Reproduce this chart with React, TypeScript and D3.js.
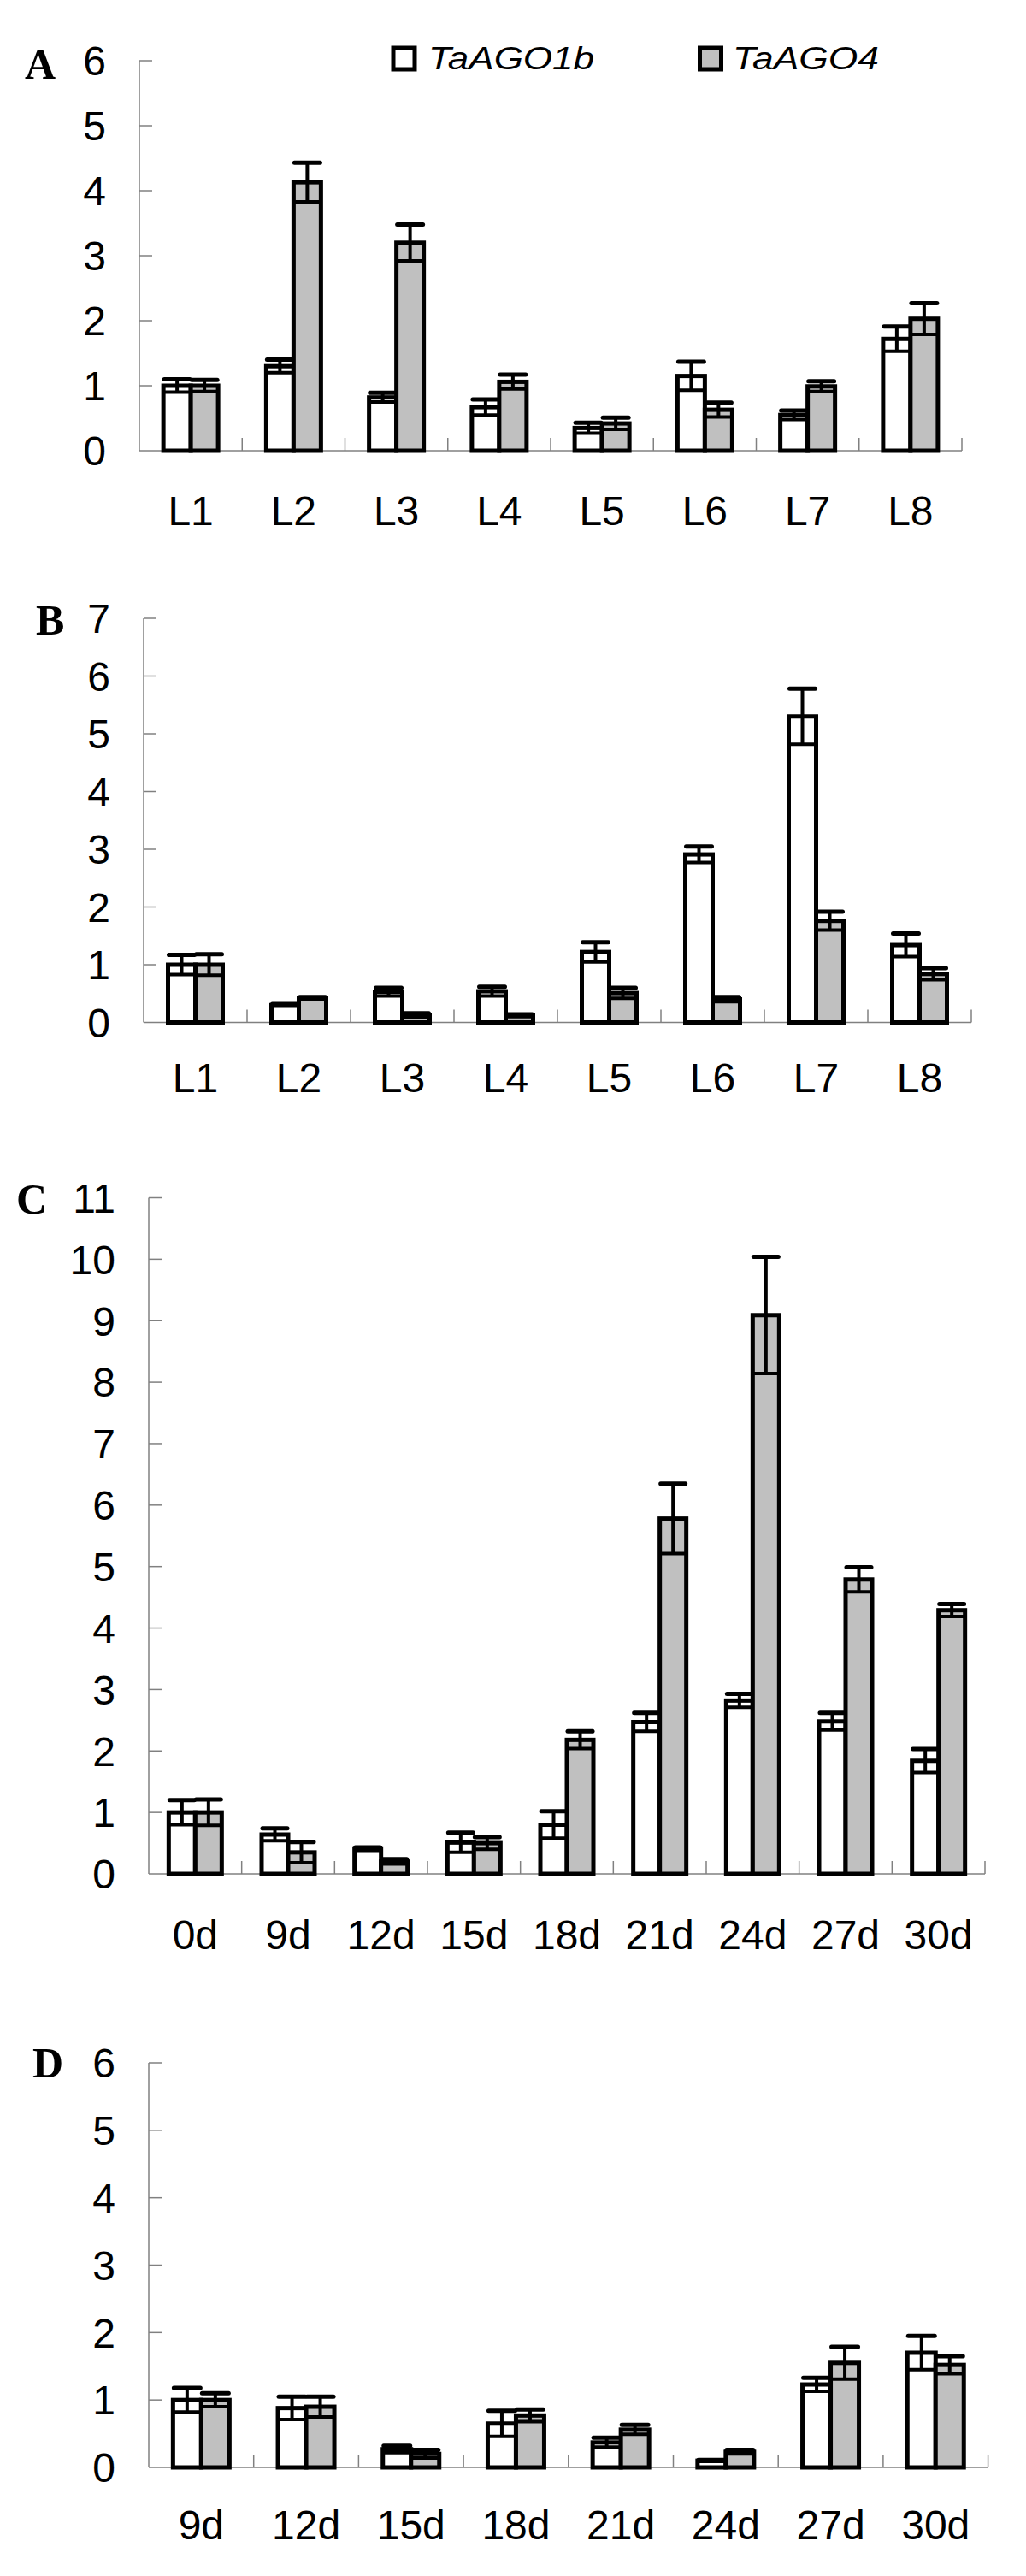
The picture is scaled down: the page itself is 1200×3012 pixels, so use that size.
import React from "react";
import * as d3 from "d3";

// ---------- data ----------
const seriesNames = ["TaAGO1b", "TaAGO4"];

const catsA = ["L1", "L2", "L3", "L4", "L5", "L6", "L7", "L8"];
const ago1bA = [1.0, 1.3, 0.82, 0.67, 0.35, 1.15, 0.55, 1.72];
const ago1bErrA = [0.1, 0.1, 0.07, 0.12, 0.08, 0.22, 0.07, 0.19];
const ago4A = [1.0, 4.13, 3.2, 1.06, 0.42, 0.63, 0.99, 2.03];
const ago4ErrA = [0.09, 0.3, 0.28, 0.11, 0.09, 0.11, 0.08, 0.24];

const catsB = ["L1", "L2", "L3", "L4", "L5", "L6", "L7", "L8"];
const ago1bB = [1.0, 0.3, 0.53, 0.54, 1.22, 2.91, 5.3, 1.34];
const ago1bErrB = [0.17, 0.02, 0.07, 0.08, 0.17, 0.14, 0.48, 0.2];
const ago4B = [1.0, 0.42, 0.12, 0.12, 0.51, 0.4, 1.76, 0.84];
const ago4ErrB = [0.18, 0.02, 0.04, 0.02, 0.09, 0.04, 0.16, 0.1];

const catsC = ["0d", "9d", "12d", "15d", "18d", "21d", "24d", "27d", "30d"];
const ago1bC = [1.0, 0.64, 0.4, 0.51, 0.8, 2.47, 2.82, 2.48, 1.84];
const ago1bErrC = [0.2, 0.1, 0.03, 0.16, 0.22, 0.15, 0.11, 0.14, 0.19];
const ago4C = [1.0, 0.35, 0.2, 0.5, 2.18, 5.78, 9.09, 4.79, 4.29];
const ago4ErrC = [0.21, 0.17, 0.04, 0.1, 0.14, 0.57, 0.95, 0.2, 0.1];

const catsD = ["9d", "12d", "15d", "18d", "21d", "24d", "27d", "30d"];
const ago1bD = [1.0, 0.88, 0.27, 0.65, 0.37, 0.1, 1.23, 1.7];
const ago1bErrD = [0.18, 0.17, 0.05, 0.19, 0.07, 0.01, 0.1, 0.25];
const ago4D = [1.0, 0.9, 0.2, 0.77, 0.56, 0.23, 1.55, 1.52];
const ago4ErrD = [0.1, 0.15, 0.06, 0.09, 0.07, 0.03, 0.24, 0.13];

// ---------- layout ----------
const AXIS_COLOR = "#808080";
const GRAY_FILL = "#c0c0c0";
const TICK_FONT = "'Liberation Sans', Arial, sans-serif";
const LETTER_FONT = "'Liberation Serif', 'Times New Roman', serif";

type PanelProps = {
  letter: string;
  cats: string[];
  s1: number[];
  e1: number[];
  s2: number[];
  e2: number[];
  yMax: number;
  axisX: number;
  xEnd: number;
  yZero: number;
  yTop: number;
  barW: number;
  labelOffset: number;
  letterX: number;
  letterDy: number;
};

function ErrorBar({ x, yv, yHi, yLo, w }: { x: number; yv: number; yHi: number; yLo: number; w: number }) {
  const half = w / 2;
  return (
    <g stroke="#000">
      <line x1={x} x2={x} y1={yHi} y2={yLo} strokeWidth={4} />
      <line x1={x - half} x2={x + half} y1={yHi} y2={yHi} strokeWidth={5} strokeLinecap="round" />
      <line x1={x - half} x2={x + half} y1={yLo} y2={yLo} strokeWidth={4} strokeLinecap="round" />
    </g>
  );
}

function Panel(p: PanelProps) {
  const x = d3.scaleBand<string>().domain(p.cats).range([p.axisX, p.xEnd]).paddingInner(0).paddingOuter(0);
  const y = d3.scaleLinear().domain([0, p.yMax]).range([p.yZero, p.yTop]);
  const ticks = d3.range(0, p.yMax + 1);
  const bw = x.bandwidth();
  return (
    <g>
      {/* panel letter */}
      <text
        x={p.letterX}
        y={y(p.yMax) + p.letterDy}
        fontFamily={LETTER_FONT}
        fontWeight="bold"
        fontSize={50}
        fill="#000"
      >
        {p.letter}
      </text>
      {/* y axis */}
      <line x1={p.axisX} x2={p.axisX} y1={y(p.yMax)} y2={y(0)} stroke={AXIS_COLOR} strokeWidth={1.5} />
      {ticks.map((t) => (
        <g key={"yt" + t}>
          {t > 0 && (
            <line x1={p.axisX} x2={p.axisX + 15} y1={y(t)} y2={y(t)} stroke={AXIS_COLOR} strokeWidth={1.5} />
          )}
          <text
            x={p.axisX - 39}
            y={y(t)}
            dy="0.36em"
            textAnchor="end"
            fontFamily={TICK_FONT}
            fontSize={48}
            fill="#000"
          >
            {t}
          </text>
        </g>
      ))}
      {/* x axis */}
      <line x1={p.axisX} x2={p.xEnd} y1={y(0)} y2={y(0)} stroke={AXIS_COLOR} strokeWidth={1.5} />
      {p.cats.map((c) => (
        <line
          key={"xt" + c}
          x1={(x(c) as number) + bw}
          x2={(x(c) as number) + bw}
          y1={y(0)}
          y2={y(0) - 15}
          stroke={AXIS_COLOR}
          strokeWidth={1.5}
        />
      ))}
      {/* bars */}
      {p.cats.map((c, i) => {
        const cx = (x(c) as number) + bw / 2;
        return (
          <g key={"bar" + c}>
            <rect
              x={cx - p.barW}
              y={y(p.s1[i])}
              width={p.barW}
              height={y(0) - y(p.s1[i])}
              fill="#fff"
              stroke="#000"
              strokeWidth={5}
            />
            <ErrorBar
              x={cx - p.barW / 2}
              yv={y(p.s1[i])}
              yHi={y(p.s1[i] + p.e1[i])}
              yLo={y(Math.max(0, p.s1[i] - p.e1[i]))}
              w={p.barW - 2}
            />
            <rect
              x={cx}
              y={y(p.s2[i])}
              width={p.barW}
              height={y(0) - y(p.s2[i])}
              fill={GRAY_FILL}
              stroke="#000"
              strokeWidth={5}
            />
            <ErrorBar
              x={cx + p.barW / 2}
              yv={y(p.s2[i])}
              yHi={y(p.s2[i] + p.e2[i])}
              yLo={y(Math.max(0, p.s2[i] - p.e2[i]))}
              w={p.barW - 2}
            />
          </g>
        );
      })}
      {/* category labels */}
      {p.cats.map((c) => (
        <text
          key={"xl" + c}
          x={(x(c) as number) + bw / 2}
          y={y(0) + p.labelOffset}
          dy="0.36em"
          textAnchor="middle"
          fontFamily={TICK_FONT}
          fontSize={48}
          fill="#000"
        >
          {c}
        </text>
      ))}
    </g>
  );
}

function Legend() {
  const items = [
    { name: seriesNames[0], fill: "#fff", boxX: 460, textX: 501, len: 194 },
    { name: seriesNames[1], fill: GRAY_FILL, boxX: 818.5, textX: 857, len: 171 },
  ];
  return (
    <g>
      {items.map((it) => (
        <g key={it.name}>
          <rect x={it.boxX} y={56} width={25} height={25} fill={it.fill} stroke="#000" strokeWidth={5} />
          <text
            x={it.textX}
            y={81}
            fontFamily={TICK_FONT}
            fontStyle="italic"
            fontSize={37}
            textLength={it.len}
            lengthAdjust="spacingAndGlyphs"
            fill="#000"
          >
            {it.name}
          </text>
        </g>
      ))}
    </g>
  );
}

export default function App() {
  return (
    <svg
      width={1200}
      height={3012}
      viewBox="0 0 1200 3012"
      style={{ position: "absolute", left: 0, top: 0, background: "#fff" }}
    >
      <rect x={0} y={0} width={1200} height={3012} fill="#fff" />
      <Panel
        letter="A"
        cats={catsA}
        s1={ago1bA}
        e1={ago1bErrA}
        s2={ago4A}
        e2={ago4ErrA}
        yMax={6}
        axisX={163}
        xEnd={1125}
        yZero={527}
        yTop={71}
        barW={32}
        labelOffset={70}
        letterX={29}
        letterDy={21}
      />
      <Legend />
      <Panel
        letter="B"
        cats={catsB}
        s1={ago1bB}
        e1={ago1bErrB}
        s2={ago4B}
        e2={ago4ErrB}
        yMax={7}
        axisX={168}
        xEnd={1136}
        yZero={1195.5}
        yTop={723}
        barW={32}
        labelOffset={64}
        letterX={42}
        letterDy={19}
      />
      <Panel
        letter="C"
        cats={catsC}
        s1={ago1bC}
        e1={ago1bErrC}
        s2={ago4C}
        e2={ago4ErrC}
        yMax={11}
        axisX={174}
        xEnd={1152}
        yZero={2191}
        yTop={1400.5}
        barW={31}
        labelOffset={71}
        letterX={19}
        letterDy={18}
      />
      <Panel
        letter="D"
        cats={catsD}
        s1={ago1bD}
        e1={ago1bErrD}
        s2={ago4D}
        e2={ago4ErrD}
        yMax={6}
        axisX={174}
        xEnd={1155.6}
        yZero={2885}
        yTop={2412}
        barW={33}
        labelOffset={67}
        letterX={38}
        letterDy={17}
      />
    </svg>
  );
}
